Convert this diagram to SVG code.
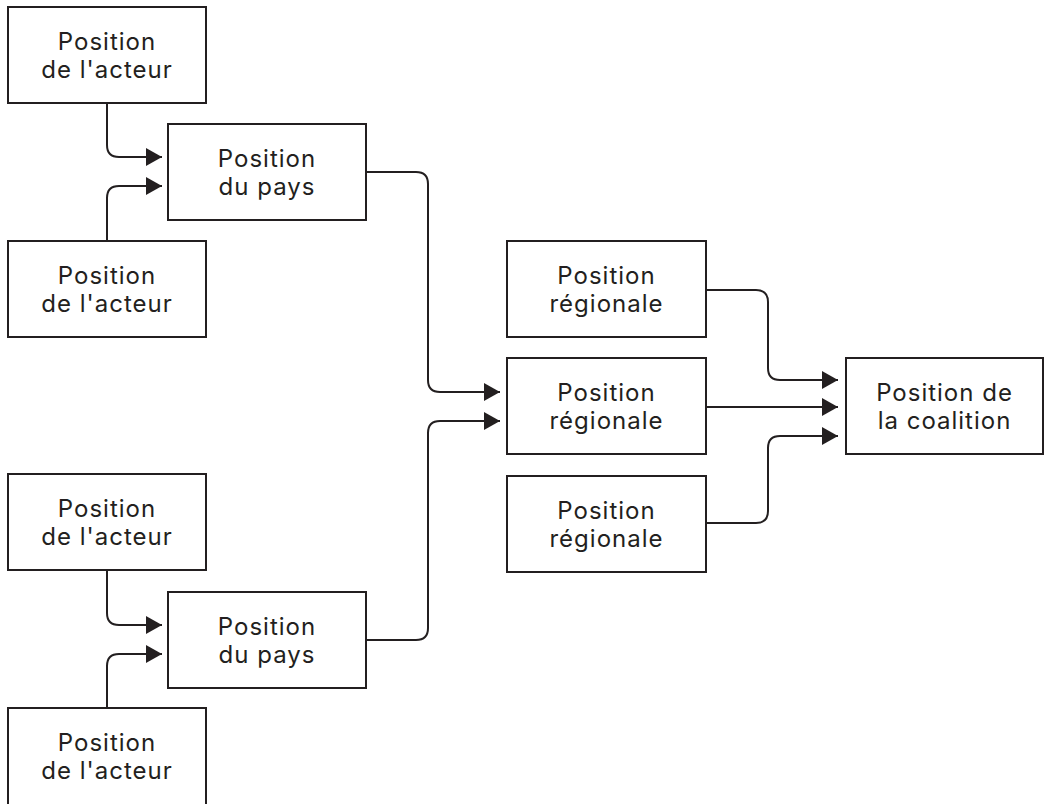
<svg xmlns="http://www.w3.org/2000/svg" width="1045" height="804" viewBox="0 0 1045 804">
  <style>
    .box rect { fill: #ffffff; stroke: #231f20; stroke-width: 2; }
    .box text { font-family: "Inter", "Liberation Sans", sans-serif; font-size: 24px; font-weight: 400; letter-spacing: 1px; font-variant-ligatures: none; fill: #231f20; text-anchor: middle; }
    .links path { fill: none; stroke: #231f20; stroke-width: 2; marker-end: url(#arrow); }
  </style>
  <defs>
    <marker id="arrow" markerUnits="userSpaceOnUse" markerWidth="16" markerHeight="18" refX="16" refY="9" orient="auto">
      <path d="M0,0 L16,9 L0,18 Z" fill="#231f20"/>
    </marker>
  </defs>
  <rect width="1045" height="804" fill="#ffffff"/>

  <!-- actor positions -->
  <g id="acteur1" class="box">
    <rect x="8" y="7" width="198" height="96"/>
    <text x="107" y="50">Position</text>
    <text x="107" y="78">de l'acteur</text>
  </g>
  <g id="acteur2" class="box">
    <rect x="8" y="241" width="198" height="96"/>
    <text x="107" y="284">Position</text>
    <text x="107" y="312">de l'acteur</text>
  </g>
  <g id="acteur3" class="box">
    <rect x="8" y="474" width="198" height="96"/>
    <text x="107" y="517">Position</text>
    <text x="107" y="545">de l'acteur</text>
  </g>
  <g id="acteur4" class="box">
    <rect x="8" y="708" width="198" height="98"/>
    <text x="107" y="751">Position</text>
    <text x="107" y="779">de l'acteur</text>
  </g>

  <!-- country positions -->
  <g id="pays1" class="box">
    <rect x="168" y="124" width="198" height="96"/>
    <text x="267" y="167">Position</text>
    <text x="267" y="195">du pays</text>
  </g>
  <g id="pays2" class="box">
    <rect x="168" y="592" width="198" height="96"/>
    <text x="267" y="635">Position</text>
    <text x="267" y="663">du pays</text>
  </g>

  <!-- regional positions -->
  <g id="regionale1" class="box">
    <rect x="507" y="241" width="199" height="96"/>
    <text x="606.5" y="284">Position</text>
    <text x="606.5" y="312">régionale</text>
  </g>
  <g id="regionale2" class="box">
    <rect x="507" y="358" width="199" height="96"/>
    <text x="606.5" y="401">Position</text>
    <text x="606.5" y="429">régionale</text>
  </g>
  <g id="regionale3" class="box">
    <rect x="507" y="476" width="199" height="96"/>
    <text x="606.5" y="519">Position</text>
    <text x="606.5" y="547">régionale</text>
  </g>

  <!-- coalition position -->
  <g id="coalition" class="box">
    <rect x="846" y="358" width="197" height="96"/>
    <text x="944.5" y="401">Position de</text>
    <text x="944.5" y="429">la coalition</text>
  </g>

  <!-- connectors -->
  <g id="connectors" class="links">
    <path d="M107,103 V145 Q107,157 119,157 H162"/>
    <path d="M107,241 V198 Q107,186 119,186 H162"/>
    <path d="M107,570 V613 Q107,625 119,625 H162"/>
    <path d="M107,708 V666 Q107,654 119,654 H162"/>
    <path d="M366,172 H416 Q428,172 428,184 V380 Q428,392 440,392 H500"/>
    <path d="M366,640 H416 Q428,640 428,628 V433 Q428,421 440,421 H500"/>
    <path d="M706,290 H756 Q768,290 768,302 V368 Q768,380 780,380 H838"/>
    <path d="M706,407 H838"/>
    <path d="M706,523 H756 Q768,523 768,511 V448 Q768,436 780,436 H838"/>
  </g>
</svg>
